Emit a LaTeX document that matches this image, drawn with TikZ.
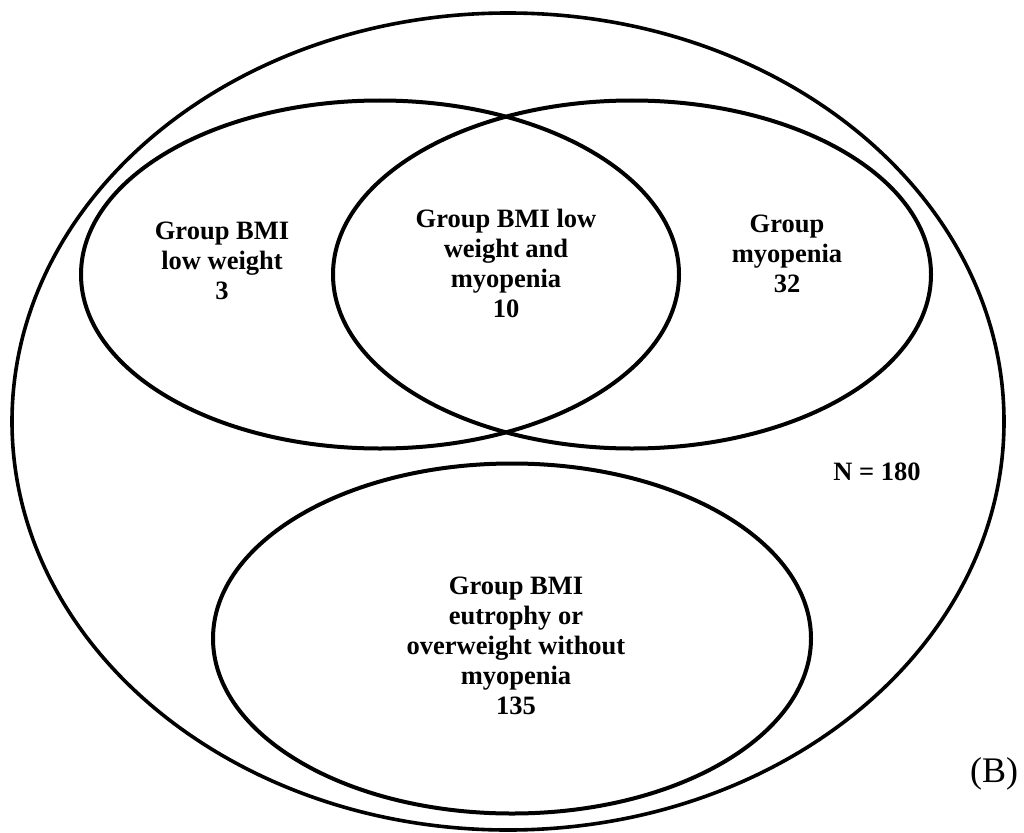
\documentclass[tikz,border=0pt]{standalone}
\usepackage{fontspec}
\setmainfont{Liberation Serif}
\usepackage{tikz}
\usetikzlibrary{shapes.geometric}

\begin{document}
\begin{tikzpicture}[x=1pt, y=-1pt,
    setborder/.style={draw=black, ellipse, inner sep=0pt, line width=4pt},
    setlabel/.style={align=center, inner sep=0pt,
                     font=\fontsize{26.5}{30}\selectfont\bfseries}]
  \useasboundingbox (0,0) rectangle (1024,832);

  % sets
  \node[setborder, line width=3.6pt, minimum width=992pt, minimum height=817pt] (total) at (508,421.5) {};
  \node[setborder, minimum width=598pt, minimum height=348pt] (lowweight) at (380,274.5) {};
  \node[setborder, minimum width=598pt, minimum height=348pt] (myopenia) at (632,274.5) {};
  \node[setborder, minimum width=598pt, minimum height=350pt] (eutrophy) at (512,638.5) {};

  % counts
  \node[setlabel] (lowweightlabel) at (222,261) {Group BMI\\low weight\\3};
  \node[setlabel] (bothlabel) at (506,263) {Group BMI low\\weight and\\myopenia\\10};
  \node[setlabel] (myopenialabel) at (787,254) {Group\\myopenia\\32};
  \node[setlabel] (eutrophylabel) at (516,646) {Group BMI\\eutrophy or\\overweight without\\myopenia\\135};
  \node[setlabel] (totallabel) at (877,472) {N = 180};
  \node[anchor=base, inner sep=0pt, font=\fontsize{36}{42}\selectfont] (panel) at (994,782) {(B)};
\end{tikzpicture}
\end{document}
